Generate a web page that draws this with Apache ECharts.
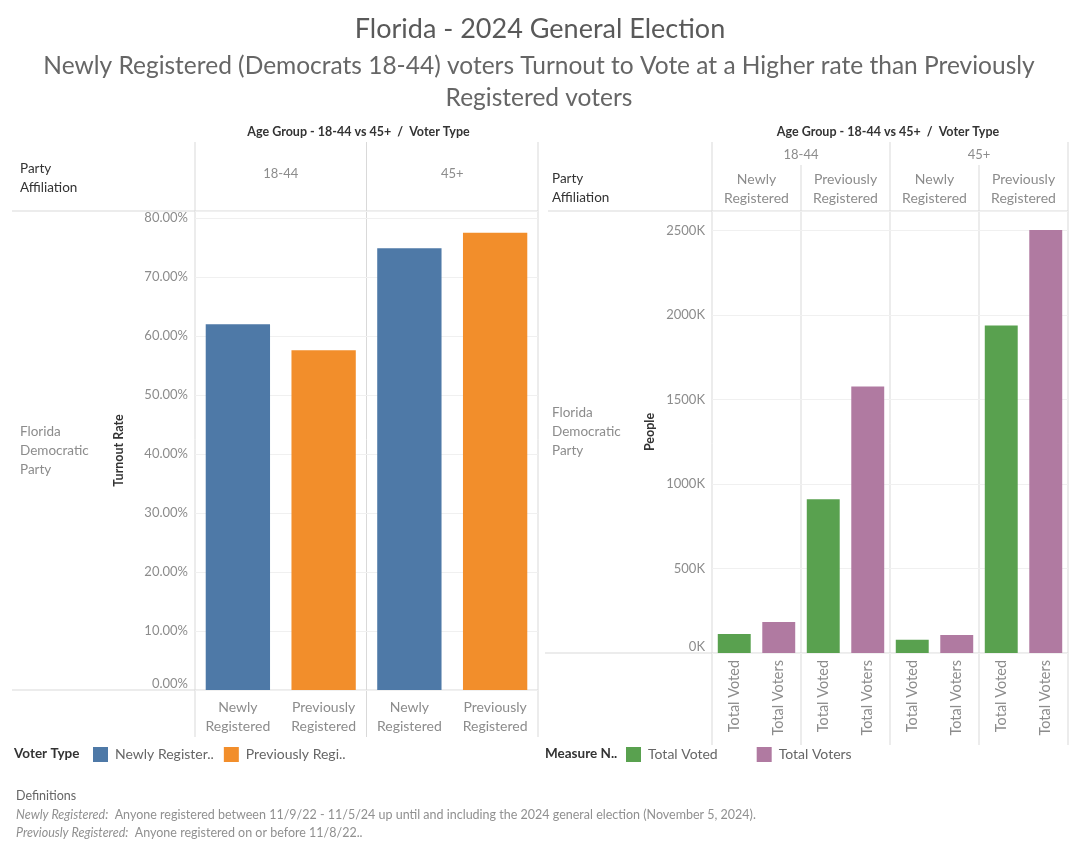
<!DOCTYPE html>
<html>
<head>
<meta charset="utf-8">
<title>Florida - 2024 General Election</title>
<script src="https://cdn.jsdelivr.net/npm/echarts@6/dist/echarts.min.js"></script>
<style>
  html, body { margin: 0; padding: 0; background: #fff; }
  #chart { width: 1080px; height: 854px; }
</style>
</head>
<body>
<div id="chart"></div>
<script>
+function () {

  // data
  var ageGroups = ['18-44', '45+']
  var voterTypes = ['Newly Registered', 'Previously Registered']
  var turnoutNewly = [0.620, 0.749]
  var turnoutPrevious = [0.576, 0.775]
  var measures = ['Total Voted', 'Total Voters']
  // order: 18-44 newly, 18-44 previously, 45+ newly, 45+ previously
  var totalVoted = [112000, 910000, 78000, 1937000]
  var totalVoters = [183000, 1576000, 106000, 2502000]
  var pctTicks = 0.1
  var peopleTicks = 500000

  var FONT = 'Lato, "Open Sans", sans-serif'
  var LINE = '#d9d9d9'
  var GRIDLINE = '#f0f0f0'
  var TICK = '#8c8c8c'
  var COLORS = {
    'Newly Registered': '#4e79a7',
    'Previously Registered': '#f28e2b',
    'Total Voted': '#59a14f',
    'Total Voters': '#b07aa1'
  }

  var left = { x: 195, y: 211, w: 343, h: 479 }
  var right = { x: 712, y: 211, w: 356, h: 442 }

  function define (i, config) {
    config(i)
    return i
  }

  // one value per slot, '-' elsewhere, so each series keeps its own colour and legend entry
  function spread (values, every, offset) {
    var out = []
    values.forEach(function (v) {
      for (var k = 0; k < every; k++) out.push(k === offset ? v : '-')
    })
    return out
  }

  var leftCats = []
  ageGroups.forEach(function () {
    voterTypes.forEach(function (t) { leftCats.push(t.replace(' ', '\n')) })
  })
  var rightCats = []
  for (var i = 0; i < ageGroups.length * voterTypes.length; i++) {
    measures.forEach(function (m) { rightCats.push(m) })
  }

  function line (x1, y1, x2, y2) {
    return { type: 'line', silent: true, shape: { x1: x1, y1: y1, x2: x2, y2: y2 }, style: { stroke: LINE, lineWidth: 1 } }
  }

  function text (str, x, y, opts) {
    opts = opts || {}
    return {
      type: 'text',
      silent: true,
      style: {
        text: str,
        x: x,
        y: y,
        fill: opts.fill || '#333',
        fontSize: opts.size || 12,
        fontFamily: FONT,
        fontWeight: opts.weight || 'normal',
        fontStyle: opts.style || 'normal',
        lineHeight: opts.lineHeight,
        align: opts.align || 'left',
        verticalAlign: opts.valign || 'middle',
        rich: opts.rich
      }
    }
  }

  var graphics = []

  // left table frame
  graphics.push(line(12, left.y, left.x + left.w, left.y))
  graphics.push(line(12, left.y + left.h, left.x + left.w, left.y + left.h))
  ;[left.x, left.x + left.w / 2, left.x + left.w].forEach(function (x) {
    graphics.push(line(x, 142, x, 737))
  })
  graphics.push(text('Age Group - 18-44 vs 45+  /  Voter Type', left.x + left.w / 2 - 8, 132, { align: 'center', weight: 'bold', size: 12.5 }))
  graphics.push(text('Party\nAffiliation', 20, 178, { lineHeight: 19, size: 13.5 }))
  ageGroups.forEach(function (g, k) {
    graphics.push(text(g, left.x + left.w / 4 * (2 * k + 1), 174, { align: 'center', fill: TICK, size: 13 }))
  })
  graphics.push(text('Florida\nDemocratic\nParty', 20, 451, { lineHeight: 19, fill: TICK, size: 13.5 }))

  // right table frame
  var cellW = right.w / 4
  graphics.push(line(548, right.y, right.x + right.w, right.y))
  graphics.push(line(545, right.y + right.h, right.x + right.w, right.y + right.h))
  for (var c = 0; c <= 4; c++) {
    graphics.push(line(right.x + cellW * c, c % 2 === 0 ? 142 : 165, right.x + cellW * c, 745))
  }
  graphics.push(text('Age Group - 18-44 vs 45+  /  Voter Type', right.x + right.w / 2 - 2, 132, { align: 'center', weight: 'bold', size: 12.5 }))
  graphics.push(text('Party\nAffiliation', 552, 188, { lineHeight: 19, size: 13.5 }))
  ageGroups.forEach(function (g, k) {
    graphics.push(text(g, right.x + cellW * (2 * k + 1), 155, { align: 'center', fill: TICK, size: 13 }))
    voterTypes.forEach(function (t, j) {
      graphics.push(text(t.replace(' ', '\n'), right.x + cellW * (2 * k + j + 0.5), 189, { align: 'center', fill: TICK, size: 14, lineHeight: 19 }))
    })
  })
  graphics.push(text('Florida\nDemocratic\nParty', 552, 432, { lineHeight: 19, fill: TICK, size: 13.5 }))

  // legend captions
  graphics.push(text('Voter Type', 14, 754, { weight: 'bold', size: 13.5 }))
  graphics.push(text('Measure N..', 545, 754, { weight: 'bold', size: 13.5 }))

  // definitions
  var italic = { i: { fontStyle: 'italic', fontSize: 12.5, fontFamily: FONT, fill: '#909090' } }
  graphics.push(text('Definitions', 16, 796, { fill: '#666', size: 12.5 }))
  graphics.push(text('{i|Newly Registered:}  Anyone registered between 11/9/22 - 11/5/24 up until and including the 2024 general election (November 5, 2024).', 16, 815, {
    fill: '#909090', size: 12.5, rich: italic
  }))
  graphics.push(text('{i|Previously Registered:}  Anyone registered on or before 11/8/22..', 16, 833, {
    fill: '#909090', size: 12.5, rich: italic
  }))

  function truncate (name) {
    var short = { 'Newly Registered': 'Newly Register..', 'Previously Registered': 'Previously Regi..' }
    return short[name] || name
  }

  var legendBase = {
    orient: 'horizontal',
    top: 747,
    padding: 0,
    itemWidth: 15,
    itemHeight: 15,
    icon: 'rect',
    selectedMode: false,
    textStyle: { color: '#666', fontSize: 14, fontFamily: FONT, padding: [0, 0, 0, 2] }
  }

  var option = {
    animation: false,
    backgroundColor: '#fff',
    title: [
      {
        text: 'Florida - 2024 General Election',
        left: 540,
        textAlign: 'center',
        top: 16,
        padding: 0,
        textStyle: { color: '#595959', fontSize: 27, fontWeight: 'normal', fontFamily: FONT }
      },
      {
        text: 'Newly Registered (Democrats 18-44) voters Turnout to Vote at a Higher rate than Previously\nRegistered voters',
        left: 539,
        textAlign: 'center',
        top: 50,
        padding: 0,
        textStyle: { color: '#666', fontSize: 24.5, fontWeight: 'normal', fontFamily: FONT, lineHeight: 32 }
      }
    ],
    legend: [
      define(Object.assign({}, legendBase), function (l) {
        l.left = 93
        l.itemGap = 10
        l.data = voterTypes
        l.formatter = truncate
      }),
      define(Object.assign({}, legendBase), function (l) {
        l.left = 626
        l.itemGap = 39
        l.data = measures
      })
    ],
    grid: [
      { left: left.x, top: left.y, width: left.w, height: left.h },
      { left: right.x, top: right.y, width: right.w, height: right.h }
    ],
    xAxis: [
      {
        type: 'category',
        gridIndex: 0,
        data: leftCats,
        axisLine: { show: false },
        axisTick: { show: false },
        axisLabel: { color: TICK, fontSize: 14, fontFamily: FONT, lineHeight: 19, margin: 8, interval: 0 }
      },
      {
        type: 'category',
        gridIndex: 1,
        data: rightCats,
        axisLine: { show: false },
        axisTick: { show: false },
        axisLabel: { color: TICK, fontSize: 14.5, fontFamily: FONT, rotate: 90, margin: 7, interval: 0 }
      }
    ],
    yAxis: [
      {
        type: 'value',
        gridIndex: 0,
        min: 0,
        max: 0.812,
        interval: pctTicks,
        name: 'Turnout Rate',
        nameLocation: 'middle',
        nameGap: 70,
        nameTextStyle: { color: '#333', fontSize: 12.5, fontWeight: 'bold', fontFamily: FONT },
        axisLine: { show: false },
        axisTick: { show: false },
        splitLine: { lineStyle: { color: GRIDLINE } },
        axisLabel: {
          color: TICK,
          fontSize: 13,
          fontFamily: FONT,
          margin: 7,
          showMaxLabel: false,
          verticalAlignMinLabel: 'bottom',
          formatter: function (v) { return (v * 100).toFixed(2) + '%' }
        }
      },
      {
        type: 'value',
        gridIndex: 1,
        min: 0,
        max: 2615000,
        interval: peopleTicks,
        name: 'People',
        nameLocation: 'middle',
        nameGap: 56,
        nameTextStyle: { color: '#333', fontSize: 12.5, fontWeight: 'bold', fontFamily: FONT },
        axisLine: { show: false },
        axisTick: { show: false },
        splitLine: { lineStyle: { color: GRIDLINE } },
        axisLabel: {
          color: TICK,
          fontSize: 13,
          fontFamily: FONT,
          margin: 7,
          showMaxLabel: false,
          verticalAlignMinLabel: 'bottom',
          formatter: function (v) { return Math.round(v / 1000) + 'K' }
        }
      }
    ],
    series: [
      {
        name: voterTypes[0],
        type: 'bar',
        xAxisIndex: 0,
        yAxisIndex: 0,
        barWidth: '75%',
        barGap: '-100%',
        itemStyle: { color: COLORS[voterTypes[0]] },
        data: spread(turnoutNewly, 2, 0)
      },
      {
        name: voterTypes[1],
        type: 'bar',
        xAxisIndex: 0,
        yAxisIndex: 0,
        barWidth: '75%',
        barGap: '-100%',
        itemStyle: { color: COLORS[voterTypes[1]] },
        data: spread(turnoutPrevious, 2, 1)
      },
      {
        name: measures[0],
        type: 'bar',
        xAxisIndex: 1,
        yAxisIndex: 1,
        barWidth: '74%',
        barGap: '-100%',
        itemStyle: { color: COLORS[measures[0]] },
        data: spread(totalVoted, 2, 0)
      },
      {
        name: measures[1],
        type: 'bar',
        xAxisIndex: 1,
        yAxisIndex: 1,
        barWidth: '74%',
        barGap: '-100%',
        itemStyle: { color: COLORS[measures[1]] },
        data: spread(totalVoters, 2, 1)
      }
    ],
    graphic: graphics
  }

  define(echarts.init(document.getElementById('chart'), null, { renderer: 'canvas' }), function (chart) {
    chart.setOption(option)
  })

}()
</script>
</body>
</html>
